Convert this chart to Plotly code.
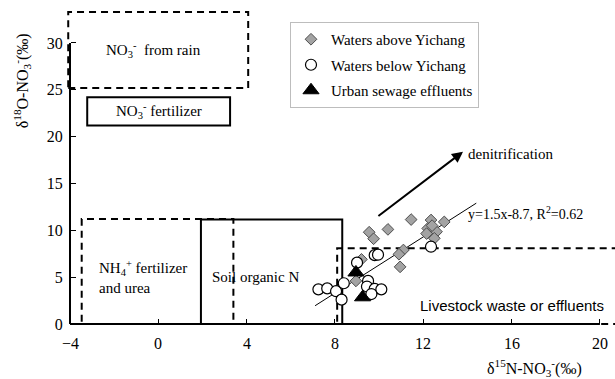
import numpy as np
import plotly.graph_objects as go

# ---- sample isotope values (δ15N, δ18O of nitrate, ‰) ----
above_n15 = [9.55, 9.75, 10.4, 11.45, 12.35, 12.95, 12.2, 12.6, 12.15, 12.5,
             11.1, 10.9, 10.95, 9.2, 8.95, 12.4]
above_o18 = [9.8, 9.1, 10.1, 11.15, 11.1, 10.9, 10.2, 9.85, 9.65, 9.15,
             7.9, 7.45, 6.1, 6.9, 4.6, 10.5]

below_n15 = [7.25, 7.65, 8.05, 8.4, 8.3, 9.5, 9.45, 9.8, 10.1, 9.65,
             9.8, 9.95, 9.0, 12.35]
below_o18 = [3.7, 3.8, 3.5, 4.35, 2.6, 4.6, 4.0, 3.75, 3.7, 3.2,
             7.35, 7.4, 6.55, 8.25]

sewage_n15 = [8.95, 9.25]
sewage_o18 = [5.5, 2.85]

# ---- regression through the river samples ----
fit_slope = 1.5
fit_intercept = -8.7
fit_r2 = 0.62
fit_n15_span = [7.1, 14.4]

# ---- typical source ranges: (x0, x1, y0, y1) ----
rain_range = (-4.08, 4.07, 25.2, 33.3)
no3_fert_range = (-3.22, 3.25, 21.2, 24.2)
nh4_fert_range = (-3.47, 3.4, 0.0, 11.2)
soil_range = (1.93, 8.33, 0.0, 11.15)
livestock_range = (8.1, 22.0, 0.0, 8.08)

x_ticks = [-4, 0, 4, 8, 12, 16, 20]
x_tick_labels = ["\u22124", "0", "4", "8", "12", "16", "20"]
y_ticks = [0, 5, 10, 15, 20, 25, 30]

SERIF = "Liberation Serif, Times New Roman, serif"
SANS = "Liberation Sans, Arial, sans-serif"

fig = go.Figure()

fit_x = np.array(fit_n15_span)
fig.add_trace(go.Scatter(
    x=fit_x, y=fit_slope * fit_x + fit_intercept, mode="lines",
    line=dict(color="black", width=1), showlegend=False, hoverinfo="skip"))

fig.add_trace(go.Scatter(
    x=above_n15, y=above_o18, mode="markers", name="Waters above Yichang",
    legendgroup="a",
    marker=dict(symbol="diamond", size=9, color="#a3a3a3",
                line=dict(color="#4d4d4d", width=1))))
fig.add_trace(go.Scatter(
    x=below_n15, y=below_o18, mode="markers", name="Waters below Yichang",
    legendgroup="b",
    marker=dict(symbol="circle", size=11, color="white",
                line=dict(color="black", width=1.2))))
fig.add_trace(go.Scatter(
    x=sewage_n15, y=sewage_o18, mode="markers", name="Urban sewage effluents",
    legendgroup="c",
    marker=dict(symbol="triangle-up", size=14, color="black",
                line=dict(color="black", width=1))))


def box(rng, dash):
    x0, x1, y0, y1 = rng
    return dict(type="rect", xref="x", yref="y", x0=x0, x1=x1, y0=y0, y1=y1,
                line=dict(color="black", width=2, dash=dash),
                fillcolor="rgba(0,0,0,0)", layer="below")


DASH = "7px,5px"
shapes = [
    box(rain_range, DASH),
    box(no3_fert_range, "solid"),
    box(nh4_fert_range, DASH),
    box(soil_range, "solid"),
    box(livestock_range, DASH),
    # axis lines
    dict(type="line", xref="x", yref="y", x0=x_ticks[0], x1=x_ticks[0],
         y0=0, y1=y_ticks[-1], line=dict(color="black", width=2)),
    dict(type="line", xref="x", yref="y", x0=x_ticks[0], x1=x_ticks[-1],
         y0=0, y1=0, line=dict(color="black", width=2)),
]

annotations = [
    dict(x=-0.2, y=29.2, xref="x", yref="y", showarrow=False,
         text="NO<sub>3</sub><sup>-</sup>\u00a0\u00a0from rain",
         font=dict(family=SERIF, size=15, color="black")),
    dict(x=0.05, y=22.75, xref="x", yref="y", showarrow=False,
         text="NO<sub>3</sub><sup>-</sup> fertilizer",
         font=dict(family=SERIF, size=15, color="black")),
    dict(x=-2.8, y=5.0, xref="x", yref="y", showarrow=False, xanchor="left",
         align="left",
         text="NH<sub>4</sub><sup>+</sup> fertilizer<br>and urea",
         font=dict(family=SERIF, size=15, color="black")),
    dict(x=2.35, y=5.0, xref="x", yref="y", showarrow=False, xanchor="left",
         text="Soil organic N",
         font=dict(family=SERIF, size=15, color="black")),
    dict(x=11.75, y=1.95, xref="x", yref="y", showarrow=False, xanchor="left",
         text="Livestock waste or effluents",
         font=dict(family=SANS, size=15, color="black")),
    dict(x=13.95, y=11.85, xref="x", yref="y", showarrow=False, xanchor="left",
         text=f"y={fit_slope}x{fit_intercept}, R<sup>2</sup>={fit_r2}",
         font=dict(family=SERIF, size=14, color="black")),
    dict(x=13.95, y=18.2, xref="x", yref="y", showarrow=False, xanchor="left",
         text="denitrification",
         font=dict(family=SERIF, size=15, color="black")),
    dict(x=13.8, y=18.4, xref="x", yref="y", ax=9.9, ay=11.4,
         axref="x", ayref="y", text="", showarrow=True,
         arrowhead=2, arrowsize=1.1, arrowwidth=2, arrowcolor="black"),
    # axis titles
    dict(x=-0.080, y=0.752, xref="paper", yref="paper", showarrow=False,
         xanchor="center", yanchor="middle", textangle=-90,
         text="δ<sup>18</sup>O-NO<sub>3</sub><sup>-</sup>(‰)",
         font=dict(family=SERIF, size=16, color="black")),
    dict(x=0.854, y=-0.124, xref="paper", yref="paper", showarrow=False,
         xanchor="center", yanchor="middle",
         text="δ<sup>15</sup>N-NO<sub>3</sub><sup>-</sup>(‰)",
         font=dict(family=SERIF, size=16, color="black")),
]

L, B = 66, 52
plot_w, plot_h = 615 - L, 379 - B

# x tick labels placed a little further below the axis line
for v, lab in zip(x_ticks, x_tick_labels):
    annotations.append(dict(
        x=v, y=-16 / plot_h, xref="x", yref="paper", showarrow=False,
        xanchor="center", yanchor="middle", text=lab,
        font=dict(family=SERIF, size=16, color="black")))

fig.update_layout(
    width=615, height=379,
    margin=dict(l=L, r=0, t=0, b=B, pad=0),
    paper_bgcolor="white", plot_bgcolor="white",
    font=dict(family=SERIF, color="black"),
    shapes=shapes, annotations=annotations,
    showlegend=True,
    legend=dict(x=(290 - L) / plot_w, y=1 - 22 / plot_h, xanchor="left",
                yanchor="top", bgcolor="white", bordercolor="#bdbdbd",
                borderwidth=1, font=dict(family=SERIF, size=15, color="black"),
                itemwidth=30, tracegroupgap=3),
    xaxis=dict(range=[-4 - 4 / 22.08, 20.683], tickvals=x_ticks,
               showticklabels=False,
               ticks="inside", ticklen=5, tickwidth=1, tickcolor="black",
               showline=False, showgrid=False, zeroline=False,
               anchor="free", position=3 / plot_h, automargin=False),
    yaxis=dict(range=[-3 / 9.367, 324 / 9.367], tickvals=y_ticks,
               ticktext=[f"{v}\u00a0\u2009" for v in y_ticks],
               ticks="inside", ticklen=5, tickwidth=1, tickcolor="black",
               showline=False, showgrid=False, zeroline=False,
               anchor="free", position=4 / plot_w, automargin=False,
               tickfont=dict(family=SERIF, size=16, color="black")),
)

fig.write_html("out.html")
